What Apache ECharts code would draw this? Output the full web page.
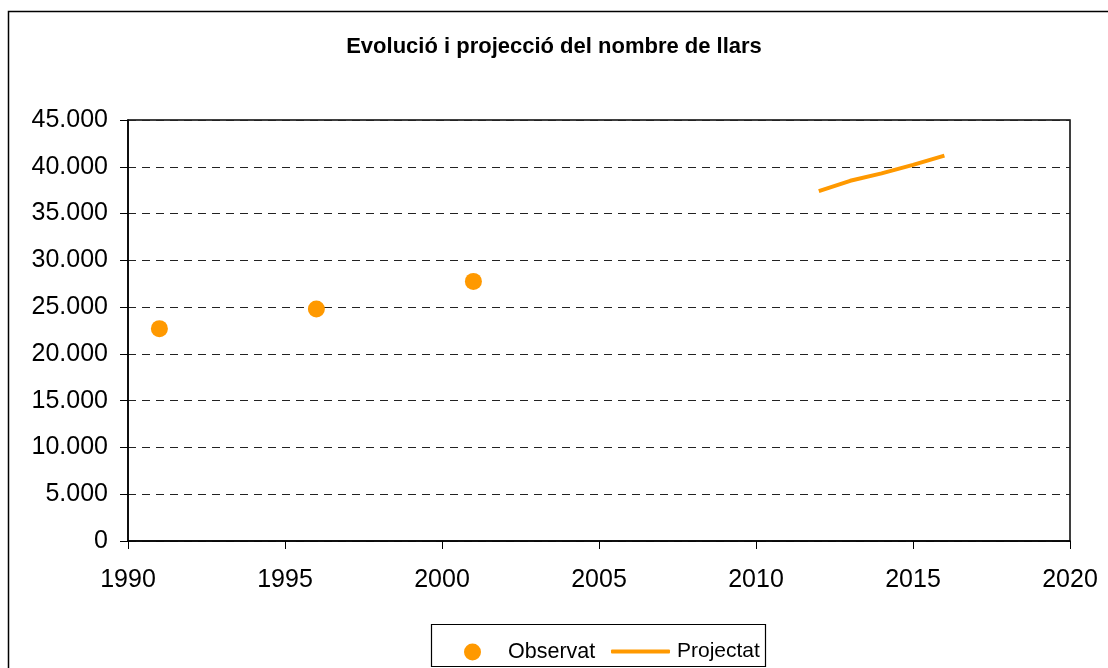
<!DOCTYPE html>
<html>
<head>
<meta charset="utf-8">
<title>Evolució i projecció del nombre de llars</title>
<script src="https://cdn.jsdelivr.net/npm/echarts@6/dist/echarts.min.js"></script>
<style>
  html, body { margin: 0; padding: 0; background: #fff; }
  #chart { width: 1108px; height: 668px; }
</style>
</head>
<body>
<div id="chart"></div>
<script>
// observed households (census years)
const observedYears = [1991, 1996, 2001]
const observedValues = [22700, 24800, 27750]

// projected households
const projectedYears = [2012, 2013, 2014, 2015, 2016]
const projectedValues = [37400, 38500, 39300, 40200, 41200]

const orange = '#ff9900'
const font = 'Liberation Sans, Arial, sans-serif'

const fmtThousands = (v) => String(v).replace(/\B(?=(\d{3})+(?!\d))/g, '.')

const chart = echarts.init(document.getElementById('chart'))

chart.setOption({
  animation: false,
  backgroundColor: '#fff',
  title: {
    text: 'Evolució i projecció del nombre de llars',
    left: 'center',
    top: 31,
    textStyle: { fontFamily: font, fontSize: 22, fontWeight: 'bold', color: '#000' }
  },
  graphic: [
    {
      type: 'rect',
      shape: { x: 8.5, y: 11.5, width: 1120, height: 700 },
      style: { fill: 'none', stroke: '#000', lineWidth: 1.5 },
      z: -1
    },
    {
      type: 'rect',
      shape: { x: 431.5, y: 624.5, width: 334, height: 42 },
      style: { fill: '#fff', stroke: '#000', lineWidth: 1.2 },
      z: 1
    }
  ],
  legend: [
    {
      data: ['Observat'],
      left: 459,
      top: 636,
      itemWidth: 17,
      itemHeight: 17,
      icon: 'circle',
      z: 5,
      textStyle: { fontFamily: font, fontSize: 21.5, color: '#000', padding: [0, 0, 0, 22] }
    },
    {
      data: ['Projectat'],
      left: 606,
      top: 636,
      itemWidth: 59,
      itemHeight: 4,
      icon: 'roundRect',
      z: 5,
      textStyle: { fontFamily: font, fontSize: 21, color: '#000', padding: [0, 0, 0, 2] }
    }
  ],
  grid: {
    left: 128,
    right: 38,
    top: 120,
    bottom: 127,
    show: true,
    borderColor: '#000',
    borderWidth: 1.5
  },
  xAxis: {
    type: 'value',
    min: 1990,
    max: 2020,
    interval: 5,
    axisLine: { lineStyle: { color: '#000', width: 1.5 } },
    axisTick: { show: true, inside: false, length: 8, lineStyle: { color: '#000' } },
    axisLabel: { fontFamily: font, fontSize: 25, color: '#000', margin: 27, formatter: (v) => String(v) },
    splitLine: { show: false }
  },
  yAxis: {
    type: 'value',
    min: 0,
    max: 45000,
    interval: 5000,
    axisLine: { show: true, lineStyle: { color: '#000', width: 1.5 } },
    axisTick: { show: true, inside: false, length: 8, lineStyle: { color: '#000' } },
    axisLabel: { fontFamily: font, fontSize: 25, color: '#000', margin: 20, formatter: fmtThousands },
    splitLine: { show: true, lineStyle: { color: '#222', type: [8, 6], width: 1 } }
  },
  series: [
    {
      name: 'Observat',
      type: 'scatter',
      symbol: 'circle',
      symbolSize: 17,
      itemStyle: { color: orange, opacity: 1 },
      data: observedYears.map((y, i) => [y, observedValues[i]])
    },
    {
      name: 'Projectat',
      type: 'line',
      symbol: 'none',
      lineStyle: { color: orange, width: 4 },
      itemStyle: { color: orange },
      data: projectedYears.map((y, i) => [y, projectedValues[i]])
    }
  ]
})
</script>
</body>
</html>
